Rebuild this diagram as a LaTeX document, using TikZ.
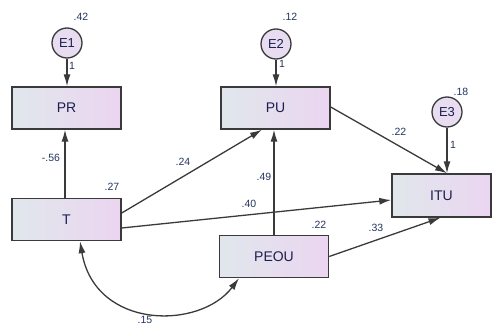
\documentclass[tikz,border=0pt]{standalone}
\usepackage{fontspec}
\setmainfont{Liberation Sans}
\usetikzlibrary{arrows.meta}

\definecolor{boxleft}{HTML}{E0E7EC}
\definecolor{boxright}{HTML}{EBD5F0}
\definecolor{errfill}{HTML}{E8DCF1}
\definecolor{edge}{HTML}{3A3A3A}
\definecolor{txt}{HTML}{1C1F4E}
\definecolor{coef}{HTML}{24345F}

\tikzset{
  var/.style={draw=edge, line width=1.4pt, left color=boxleft, right color=boxright,
    minimum width=109pt, minimum height=42pt, inner sep=0pt,
    text=txt, font=\fontsize{14}{16}\selectfont},
  err/.style={circle, draw=edge, line width=1.3pt, fill=errfill,
    minimum size=30pt, inner sep=0pt, text=txt, font=\fontsize{13}{15}\selectfont},
  path/.style={draw=edge, line width=1.3pt, -{Latex[length=12pt,width=7pt]}},
  cov/.style={draw=edge, line width=1.3pt, {Latex[length=12pt,width=7pt]}-{Latex[length=12pt,width=7pt]}},
  est/.style={text=coef, font=\fontsize{10.5}{12}\selectfont, inner sep=0pt}
}

\begin{document}
\begin{tikzpicture}[x=1pt, y=-1pt]
\useasboundingbox (0,0) rectangle (493,326);

% observed variables
\node[var] (PR)   at (66.5,108)   {PR};
\node[var] (PU)   at (275.5,108)  {PU};
\node[var] (T)    at (66.5,219.5) {T};
\node[var] (PEOU) at (274,256.5)  {PEOU};
\node[var, minimum width=99pt, minimum height=43pt] (ITU) at (441.5,195.5) {ITU};

% error terms
\node[err] (E1) at (67,43)   {E1};
\node[err] (E2) at (276,44)  {E2};
\node[err] (E3) at (447,112) {E3};

% error loadings
\draw[path] (E1.south) -- (E1.south |- PR.north);
\draw[path] (E2.south) -- (E2.south |- PU.north);
\coordinate (itutop) at ([xshift=5.5pt]ITU.north);
\draw[path] (E3.south) -- (itutop);

% structural paths (shifts are in page units: positive yshift goes up)
\draw[path] ([xshift=-1.5pt]T.north) -- ([xshift=-1.5pt]PR.south);
\draw[path] ([yshift=6.5pt]T.east) -- ([xshift=-13.5pt]PU.south);
\draw[path] ([yshift=-8.5pt]T.east) -- ([yshift=-4.5pt]ITU.west);
\draw[path] (PEOU.north) -- (PEOU.north |- PU.south);
\draw[path] (PEOU.east) -- ([xshift=-1pt]ITU.south);
\draw[path] ([yshift=1pt]PU.east) -- (itutop);

% covariance between T and PEOU
\draw[cov] ([xshift=13.5pt]T.south) .. controls (95,330) and (200,330) .. ([xshift=-35pt]PEOU.south);

% estimates
\node[est] at (81,17)   {.42};
\node[est] at (72,66)   {1};
\node[est] at (290,17)  {.12};
\node[est] at (282,64)  {1};
\node[est] at (461,92)  {.18};
\node[est] at (453,145) {1};
\node[est] at (51,158)  {-.56};
\node[est] at (112,187) {.27};
\node[est] at (183,162) {.24};
\node[est] at (264,177) {.49};
\node[est] at (249,204) {.40};
\node[est] at (399,132) {.22};
\node[est] at (319,225) {.22};
\node[est] at (376,228) {.33};
\node[est] at (145,320) {.15};
\end{tikzpicture}
\end{document}
